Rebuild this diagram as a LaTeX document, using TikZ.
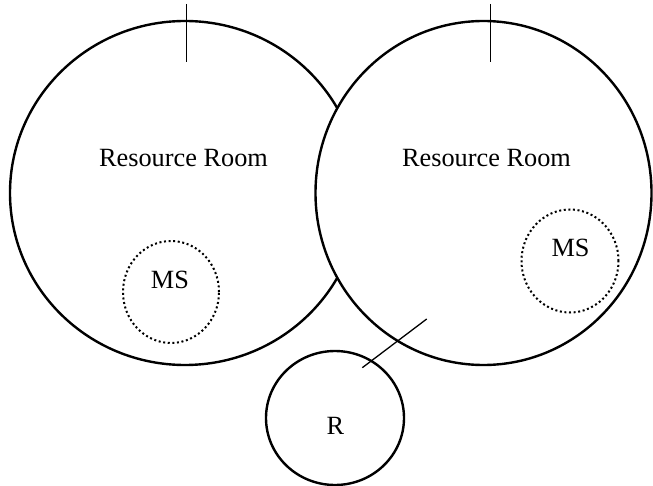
\documentclass[tikz,border=0pt]{standalone}
\usepackage{fontspec}
\setmainfont{Liberation Serif}
\usetikzlibrary{shapes.geometric}

\begin{document}
\begin{tikzpicture}[x=1pt,y=1pt,yscale=-1,xscale=1,
  room/.style={draw, ellipse, line width=2.4pt, inner sep=0pt},
  mspot/.style={draw, ellipse, line width=2pt, dash pattern={on 2pt off 2.6pt}, inner sep=0pt},
  door/.style={line width=1.3pt},
  lbl/.style={anchor=base, inner sep=0pt, font=\fontsize{26.3}{30}\selectfont}]
\useasboundingbox (0,0) rectangle (653,486);

%Shape: Ellipse [left room]
\node [room, minimum width=350pt, minimum height=344pt] (roomL) at (185,193) {};
%Shape: Ellipse [left MS]
\node [mspot, minimum width=96pt, minimum height=102pt] (msL) at (171,292) {};
%Shape: Ellipse [right room]
\node [room, fill=white, minimum width=336pt, minimum height=344pt] (roomR) at (483.5,193) {};
%Shape: Ellipse [right MS]
\node [mspot, minimum width=97pt, minimum height=103pt] (msR) at (570,261) {};
%Shape: Circle [R]
\node [room, minimum width=138pt, minimum height=134pt] (rcirc) at (335,418) {};

%Straight Lines
\coordinate (doorLa) at (186.5,4);
\coordinate (doorLb) at (186.5,62.3);
\draw [door] (doorLa) -- (doorLb);
%Straight Lines
\coordinate (doorRa) at (490.5,4);
\coordinate (doorRb) at (490.5,62.3);
\draw [door] (doorRa) -- (doorRb);
%Straight Lines
\coordinate (doorBa) at (362.3,367.7);
\coordinate (doorBb) at (426.7,319);
\draw [door] (doorBa) -- (doorBb);

% Text Node
\node [lbl] (txtL) at (183.5,166.5) {Resource Room};
% Text Node
\node [lbl] (txtR) at (486.5,166.5) {Resource Room};
% Text Node
\node [lbl] (txtMSL) at (170,289) {MS};
% Text Node
\node [lbl] (txtMSR) at (570.5,256.7) {MS};
% Text Node
\node [lbl] (txtR) at (335.5,434.3) {R};

\end{tikzpicture}
\end{document}
